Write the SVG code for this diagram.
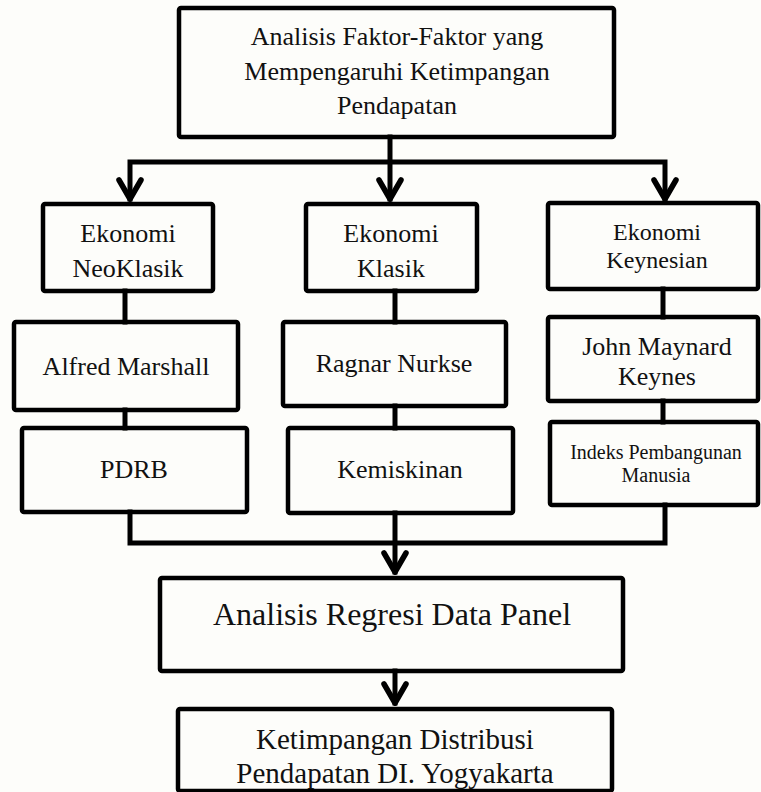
<svg xmlns="http://www.w3.org/2000/svg" width="761" height="792" viewBox="0 0 761 792">
  <style>
    .box { fill: none; stroke: #000; stroke-width: 4.5; }
    .conn { fill: none; stroke: #000; stroke-width: 5; stroke-linejoin: miter; stroke-linecap: square; }
    .t { font-family: "Liberation Serif", "Times New Roman", serif; fill: #111; text-anchor: middle; }
    .f26 { font-size: 26px; }
    .f24 { font-size: 24px; }
    .f20 { font-size: 20px; }
    .f32 { font-size: 32px; }
    .f29 { font-size: 29px; }
  </style>
  <defs>
    <marker id="arrow" markerUnits="userSpaceOnUse" markerWidth="40" markerHeight="40" refX="0" refY="0" orient="auto-start-reverse" overflow="visible">
      <path d="M-19,-11 L0,0 L-19,11" fill="none" stroke="#000" stroke-width="5.5" stroke-linejoin="round" stroke-linecap="round"/>
    </marker>
  </defs>
  <rect width="761" height="792" fill="#fdfdfa"/>

  <g id="connectors">
    <line class="conn" x1="390" y1="137" x2="390" y2="199" marker-end="url(#arrow)"/>
    <path class="conn" d="M130,199 V162 H665 V199" marker-start="url(#arrow)" marker-end="url(#arrow)"/>
    <line class="conn" x1="125" y1="291" x2="125" y2="322"/>
    <line class="conn" x1="125" y1="410" x2="125" y2="428"/>
    <line class="conn" x1="395" y1="291" x2="395" y2="322"/>
    <line class="conn" x1="395" y1="406" x2="395" y2="428"/>
    <line class="conn" x1="663" y1="289" x2="663" y2="317"/>
    <line class="conn" x1="663" y1="401" x2="663" y2="422"/>
    <path class="conn" d="M130,512 V543 H665 V505"/>
    <line class="conn" x1="395" y1="513" x2="395" y2="572" marker-end="url(#arrow)"/>
    <line class="conn" x1="395" y1="671" x2="395" y2="703" marker-end="url(#arrow)"/>
  </g>

  <g id="top">
    <rect class="box" x="179" y="8" width="435" height="129" rx="2"/>
    <text class="t f26" x="397" y="45">Analisis Faktor-Faktor yang</text>
    <text class="t f26" x="397" y="80">Mempengaruhi Ketimpangan</text>
    <text class="t f26" x="397" y="114">Pendapatan</text>
  </g>

  <g id="neoklasik">
    <rect class="box" x="43" y="204" width="170" height="87" rx="2"/>
    <text class="t f26" x="128" y="242">Ekonomi</text>
    <text class="t f26" x="128" y="277">NeoKlasik</text>
  </g>
  <g id="klasik">
    <rect class="box" x="306" y="204" width="171" height="87" rx="2"/>
    <text class="t f26" x="391" y="242">Ekonomi</text>
    <text class="t f26" x="391" y="277">Klasik</text>
  </g>
  <g id="keynesian">
    <rect class="box" x="548" y="203" width="210" height="86" rx="2"/>
    <text class="t f24" x="657" y="240">Ekonomi</text>
    <text class="t f24" x="657" y="268">Keynesian</text>
  </g>

  <g id="marshall">
    <rect class="box" x="14" y="322" width="224" height="88" rx="2"/>
    <text class="t f26" x="126" y="375">Alfred Marshall</text>
  </g>
  <g id="nurkse">
    <rect class="box" x="283" y="322" width="223" height="84" rx="2"/>
    <text class="t f26" x="394" y="372">Ragnar Nurkse</text>
  </g>
  <g id="keynes">
    <rect class="box" x="548" y="317" width="210" height="84" rx="2"/>
    <text class="t f26" x="657" y="355">John Maynard</text>
    <text class="t f26" x="657" y="385">Keynes</text>
  </g>

  <g id="pdrb">
    <rect class="box" x="22" y="428" width="225" height="84" rx="2"/>
    <text class="t f26" x="134" y="478">PDRB</text>
  </g>
  <g id="kemiskinan">
    <rect class="box" x="288" y="428" width="225" height="85" rx="2"/>
    <text class="t f26" x="400" y="478">Kemiskinan</text>
  </g>
  <g id="ipm">
    <rect class="box" x="550" y="422" width="208" height="83" rx="2"/>
    <text class="t f20" x="656" y="459">Indeks Pembangunan</text>
    <text class="t f20" x="656" y="482">Manusia</text>
  </g>

  <g id="regresi">
    <rect class="box" x="160" y="578" width="463" height="93" rx="2"/>
    <text class="t f32" x="392" y="625">Analisis Regresi Data Panel</text>
  </g>
  <g id="ketimpangan">
    <rect class="box" x="178" y="709" width="434" height="82" rx="2"/>
    <text class="t f29" x="395" y="749">Ketimpangan Distribusi</text>
    <text class="t f29" x="395" y="783">Pendapatan DI. Yogyakarta</text>
  </g>
</svg>
